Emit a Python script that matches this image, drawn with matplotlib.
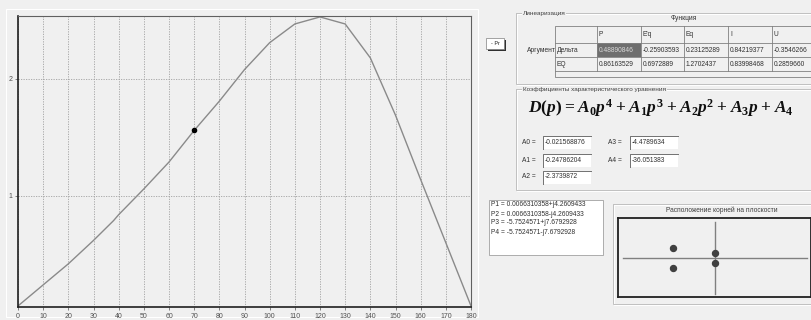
import matplotlib
matplotlib.use("Agg")
import matplotlib.pyplot as plt
from matplotlib.patches import Rectangle

plt.rcParams['font.family'] = ['Liberation Sans', 'DejaVu Sans']
plt.rcParams['mathtext.fontset'] = 'custom'
plt.rcParams['mathtext.it'] = 'Liberation Serif:italic:bold'
plt.rcParams['mathtext.rm'] = 'Liberation Serif:bold'
plt.rcParams['mathtext.bf'] = 'Liberation Serif:bold'

# curve P(delta)
delta = [0, 10, 20, 30, 38, 40, 50, 60, 70, 80, 90, 100, 110, 120, 130, 140, 150, 160, 170, 180]
power = [0.06, 0.24, 0.42, 0.62, 0.79, 0.84, 1.06, 1.29, 1.56, 1.81, 2.08, 2.31, 2.47, 2.53,
         2.47, 2.18, 1.69, 1.14, 0.60, 0.06]
point_x = [70]
point_y = [1.56]
x_ticks = list(range(0, 181, 10))
y_ticks = [1, 2]

# linearisation table
functions = ["P", "E'q", "Eq", "I", "U"]
arguments = ["Дельта", "EQ"]
row_delta = ["0.48890846", "-0.25903593", "0.23125289", "0.84219377", "-0.3546266"]
row_eq = ["0.86163529", "0.6972889", "1.2702437", "0.83998468", "0.2859660"]

# coefficients
coef_names = ["A0", "A1", "A2", "A3", "A4"]
coef_vals = ["-0.021568876", "-0.24786204", "-2.3739872", "-4.4789634", "-36.051383"]

# roots
root_re = [0.0066310358, 0.0066310358, -5.7524571, -5.7524571]
root_im = [4.2609433, -4.2609433, 7.6792928, -7.6792928]

W, H = 812, 320
bg = '#f0f0f0'
fig = plt.figure(figsize=(W / 100, H / 100), dpi=100, facecolor=bg)


def box(x0, y0, x1, y1):
    return [x0 / W, 1 - y1 / H, (x1 - x0) / W, (y1 - y0) / H]


ui = fig.add_axes([0, 0, 1, 1], zorder=0)
ui.set_xlim(0, W)
ui.set_ylim(H, 0)
ui.axis('off')

# ---- main chart ----
ax = fig.add_axes(box(18, 16, 471, 307), zorder=1)
ax.set_facecolor('#f0f0f0')
ax.plot(delta, power, color='#8a8a8a', lw=1.0)
ax.plot(point_x, point_y, 'o', color='black', ms=3)
ax.set_xlim(0, 180)
ax.set_ylim(0.051, 2.538)
ax.set_xticks(x_ticks)
ax.set_yticks(y_ticks)
ax.tick_params(labelsize=5, colors='#505050', length=2, width=0.5, pad=2)
ax.grid(True, color='#a0a0a0', ls=(0, (1.5, 1.5)), lw=0.6)
for s in ['top', 'right']:
    ax.spines[s].set_color('#606060')
    ax.spines[s].set_linewidth(0.8)
for s in ['left', 'bottom']:
    ax.spines[s].set_color('#202020')
    ax.spines[s].set_linewidth(1.2)
ui.add_patch(Rectangle((6, 9), 472, 308, fill=False, ec='white', lw=0.8))

# ---- button ----
ui.add_patch(Rectangle((488, 40), 18, 11, fc='#303030', ec='none'))
ui.add_patch(Rectangle((486, 38), 18, 11, fc='white', ec='#808080', lw=0.5))
ui.text(495, 43.5, "- Pr", fontsize=4, ha='center', va='center', color='#202020')


def group(x0, y0, x1, y1, title, tx=None, center=False):
    ui.add_patch(Rectangle((x0 + 0.7, y0 + 0.7), x1 - x0, y1 - y0, fill=False, ec='white', lw=0.7))
    ui.add_patch(Rectangle((x0, y0), x1 - x0, y1 - y0, fill=False, ec='#c0c0c0', lw=0.7))
    if center:
        ui.text((x0 + x1) / 2, y0 + 6, title, fontsize=4.8, ha='center', va='center',
                color='#404040')
    else:
        ui.text(tx if tx else x0 + 7, y0, title, fontsize=4.6, ha='left', va='center',
                color='#404040', bbox=dict(fc=bg, ec='none', pad=0.5))


# ---- linearisation table ----
group(516, 13, 830, 84, "Линеаризация")
col_edges = [555, 597, 641, 684, 728, 772, 830]
row_edges = [26, 43, 57, 71]
ui.add_patch(Rectangle((555, 26), 275, 51, fc=bg, ec='#808080', lw=0.6))
ui.add_patch(Rectangle((597, 43), 44, 14, fc='#6e6e6e', ec='none'))
for xe in col_edges[1:-1]:
    ui.plot([xe, xe], [26, 71], color='#808080', lw=0.6)
for ye in row_edges[1:]:
    ui.plot([555, 830], [ye, ye], color='#808080', lw=0.6)
ui.text(684, 19, "Функция", fontsize=4.8, ha='center', va='center', color='#303030')
ui.text(556, 51, "Аргумент", fontsize=4.8, ha='right', va='center', color='#303030')
for i, f in enumerate(functions):
    ui.text(col_edges[i + 1] + 2, 34, f, fontsize=4.8, ha='left', va='center', color='#303030')
for j, (arg, row) in enumerate(zip(arguments, [row_delta, row_eq])):
    yc = (row_edges[j + 1] + row_edges[j + 2]) / 2
    ui.text(557, yc, arg, fontsize=4.8, ha='left', va='center', color='#303030')
    for i, v in enumerate(row):
        c = '#d8d8d8' if (i == 0 and j == 0) else '#303030'
        ui.text(col_edges[i + 1] + 2, yc, v, fontsize=4.8, ha='left', va='center', color=c,
                clip_on=True)

# ---- coefficients ----
group(516, 89, 830, 190, "Коэффициенты характеристического уравнения")
sp = r"\hspace{0.06}"
formula = (r"$D(p)" + sp + "=" + sp + "A_0p^4" + sp + "+" + sp + "A_1p^3" + sp + "+" + sp
           + "A_2p^2" + sp + "+" + sp + "A_3p" + sp + "+" + sp + "A_4$")
ui.text(528, 108, formula, fontsize=12.5, ha='left', va='center', color='#101010')
coef_pos = [(522, 543, 142), (522, 543, 160), (522, 543, 177), (608, 630, 142), (608, 630, 160)]
for name, val, (lx, bx, yc) in zip(coef_names, coef_vals, coef_pos):
    ui.text(lx, yc, name + " =", fontsize=4.8, ha='left', va='center', color='#303030')
    ui.add_patch(Rectangle((bx, yc - 6.5), 48, 13, fc='white', ec='none'))
    ui.plot([bx, bx, bx + 48], [yc + 6.5, yc - 6.5, yc - 6.5], color='#707070', lw=0.7)
    ui.text(bx + 1.5, yc, val, fontsize=4.8, ha='left', va='center', color='#303030')

# ---- roots text ----
ui.add_patch(Rectangle((489, 200), 114, 55, fc='white', ec='#a0a0a0', lw=0.6))
for k in range(4):
    sign = '+' if root_im[k] > 0 else '-'
    s = "P%d = %s%sj%s" % (k + 1, "%.10g" % root_re[k], sign, "%.8g" % abs(root_im[k]))
    ui.text(491, 205 + 9 * k, s, fontsize=4.8, ha='left', va='center', color='#303030')

# ---- roots plane ----
group(613, 204, 830, 304, "Расположение корней на плоскости", center=True)
rx = fig.add_axes(box(618, 218, 811, 297), zorder=1)
rx.set_facecolor(bg)
rx.set_xlim(-13.3, 13.2)
rx.set_ylim(-31.0, 31.7)
rx.set_xticks([])
rx.set_yticks([])
for s in rx.spines.values():
    s.set_color('#202020')
    s.set_linewidth(1.3)
rx.plot([-12.6, 12.6], [0, 0], color='#808080', lw=1)
rx.plot([0, 0], [-28.6, 28.6], color='#808080', lw=1)
rx.plot(root_re, root_im, 'o', color='#404040', ms=4.3, ls='none')

fig.savefig('out.png', dpi=100, facecolor=bg)
